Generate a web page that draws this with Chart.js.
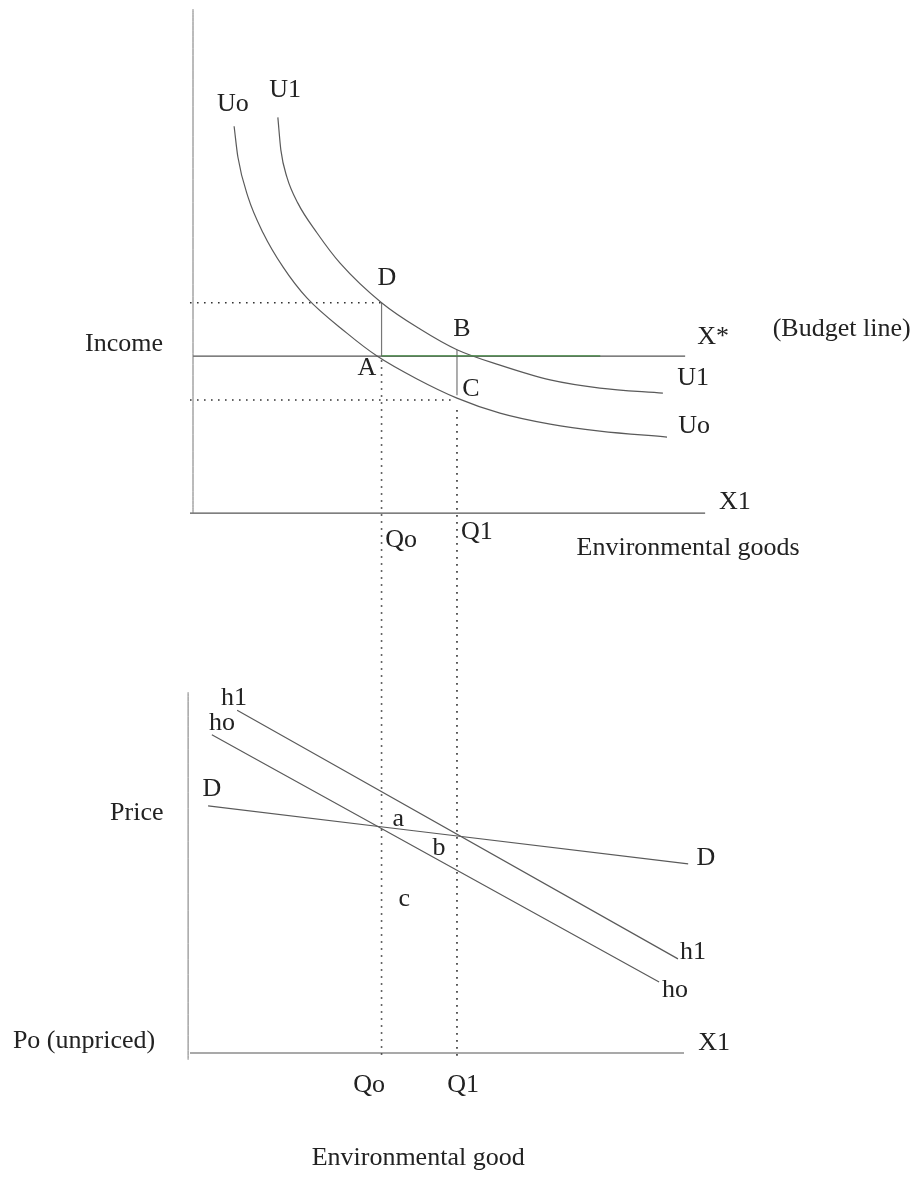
<!DOCTYPE html>
<html>
<head>
<meta charset="utf-8">
<script src="https://cdn.jsdelivr.net/npm/chart.js@4"></script>
<style>
  html, body { margin: 0; padding: 0; background: #fff; }
  #wrap { width: 918px; height: 1179px; }
</style>
</head>
<body>
<div id="wrap"><canvas id="welfare_chart" width="918" height="1179"></canvas></div>
<script>
// quantity of the environmental good at the two points
const qtyMarks = [5, 7];            // Qo, Q1

// top panel: indifference curves (quantity, income)
const uoQty    = [1.09, 1.19, 1.46, 1.86, 2.39, 3.02, 4.08, 4.88, 5.94, 7.0, 8.14, 9.47, 10.79, 12.57];
const uoIncome = [12.32, 11.34, 10.06, 8.92, 7.83, 6.85, 5.73, 5.0, 4.27, 3.66, 3.18, 2.83, 2.61, 2.42];
const u1Qty    = [2.25, 2.33, 2.49, 2.78, 3.29, 3.9, 5.0, 6.02, 7.0, 8.14, 9.47, 10.79, 12.46];
const u1Income = [12.6, 11.56, 10.7, 9.87, 8.92, 7.96, 6.7, 5.86, 5.2, 4.71, 4.24, 3.98, 3.82];

const budgetQty    = [0, 13.05];
const budgetIncome = [5, 5];
const budgetGreen  = [5, 10.8];
const incomeLevels = [6.7, 5.0, 3.6];   // at D, at the budget line, at C
const stepIncome   = [5.2, 3.75];       // B and C on the Q1 line

// bottom panel: Hicksian curves and demand (quantity, price)
const h1Qty     = [1.17, 12.86];
const h1Price   = [15.3, 4.2];
const hoQty     = [0.5, 12.36];
const hoPrice   = [14.2, 3.17];
const demandQty   = [0.4, 13.13];
const demandPrice = [11.03, 8.44];

const lineColor = '#5a5a5a';
const dotColor = '#333';

function pts(xs, ys) {
    return xs.map((x, i) => ({ x: x, y: ys[i] }));
}

function solid(data, axis, color, width) {
    return {
        data: data,
        yAxisID: axis,
        borderColor: color || lineColor,
        borderWidth: width || 1.2,
        pointRadius: 0,
        fill: false,
        cubicInterpolationMode: 'monotone'
    };
}

function dotted(data, axis) {
    return {
        data: data,
        yAxisID: axis,
        borderColor: dotColor,
        borderWidth: 1.6,
        borderDash: [1.6, 5.4],
        pointRadius: 0,
        fill: false
    };
}

const labels = [
    // top panel
    { text: 'Uo', x: 1.06, y: 13.03, axis: 'yInc' },
    { text: 'U1', x: 2.44, y: 13.47, axis: 'yInc' },
    { text: 'D', x: 5.14, y: 7.48, axis: 'yInc' },
    { text: 'B', x: 7.13, y: 5.86, axis: 'yInc' },
    { text: 'A', x: 4.61, y: 4.62, axis: 'yInc' },
    { text: 'C', x: 7.37, y: 3.95, axis: 'yInc' },
    { text: 'X*', x: 13.79, y: 5.6, axis: 'yInc' },
    { text: '(Budget line)', x: 17.2, y: 5.86, axis: 'yInc' },
    { text: 'U1', x: 13.26, y: 4.3, axis: 'yInc' },
    { text: 'Uo', x: 13.29, y: 2.77, axis: 'yInc' },
    { text: 'X1', x: 14.37, y: 0.35, axis: 'yInc' },
    { text: 'Qo', x: 5.52, y: -0.86, axis: 'yInc' },
    { text: 'Q1', x: 7.53, y: -0.6, axis: 'yInc' },
    { text: 'Environmental goods', x: 13.13, y: -1.11, axis: 'yInc' },
    { text: 'Income', x: -1.83, y: 5.38, axis: 'yInc' },
    // bottom panel
    { text: 'h1', x: 1.09, y: 15.85, axis: 'yPrice' },
    { text: 'ho', x: 0.77, y: 14.73, axis: 'yPrice' },
    { text: 'D', x: 0.5, y: 11.79, axis: 'yPrice' },
    { text: 'Price', x: -1.49, y: 10.71, axis: 'yPrice' },
    { text: 'a', x: 5.44, y: 10.45, axis: 'yPrice' },
    { text: 'b', x: 6.52, y: 9.15, axis: 'yPrice' },
    { text: 'c', x: 5.6, y: 6.88, axis: 'yPrice' },
    { text: 'D', x: 13.6, y: 8.71, axis: 'yPrice' },
    { text: 'h1', x: 13.26, y: 4.51, axis: 'yPrice' },
    { text: 'ho', x: 12.78, y: 2.81, axis: 'yPrice' },
    { text: 'X1', x: 13.82, y: 0.45, axis: 'yPrice' },
    { text: 'Po (unpriced)', x: -2.89, y: 0.54, axis: 'yPrice' },
    { text: 'Qo', x: 4.67, y: -1.43, axis: 'yPrice' },
    { text: 'Q1', x: 7.16, y: -1.43, axis: 'yPrice' },
    { text: 'Environmental good', x: 5.97, y: -4.69, axis: 'yPrice' }
];

// Qo / Q1 dotted guides run from the top panel down to the bottom axis
const guidePlugin = {
    id: 'guides',
    afterDatasetsDraw(chart) {
        const ctx = chart.ctx;
        const x = chart.scales.x;
        const yInc = chart.scales.yInc;
        const yPrice = chart.scales.yPrice;
        const starts = [4.87, 3.28];
        ctx.save();
        ctx.strokeStyle = dotColor;
        ctx.lineWidth = 1.6;
        ctx.setLineDash([1.6, 5.4]);
        qtyMarks.forEach((q, i) => {
            ctx.beginPath();
            ctx.moveTo(x.getPixelForValue(q), yInc.getPixelForValue(starts[i]));
            ctx.lineTo(x.getPixelForValue(q), yPrice.getPixelForValue(-0.25));
            ctx.stroke();
        });
        ctx.setLineDash([]);
        ctx.fillStyle = '#222';
        ctx.font = '26px "Liberation Serif", "Times New Roman", serif';
        ctx.textAlign = 'center';
        ctx.textBaseline = 'middle';
        labels.forEach(l => {
            ctx.fillText(l.text, x.getPixelForValue(l.x), chart.scales[l.axis].getPixelForValue(l.y));
        });
        ctx.restore();
    }
};

const ctx = document.getElementById('welfare_chart');

new Chart(ctx, {
    type: 'line',
    data: {
        datasets: [
            // top panel axes
            solid(pts([0, 0], [0, 16.05]), 'yInc', '#777', 1),
            solid(pts([-0.08, 13.58], [0, 0]), 'yInc', '#555', 1.2),
            // budget line
            solid(pts(budgetQty, budgetIncome), 'yInc', '#555', 1.2),
            solid(pts(budgetGreen, budgetIncome), 'yInc', '#45d445', 1.6),
            // indifference curves
            solid(pts(uoQty, uoIncome), 'yInc'),
            solid(pts(u1Qty, u1Income), 'yInc'),
            // D-A and B-C steps
            solid(pts([qtyMarks[0], qtyMarks[0]], [incomeLevels[0], incomeLevels[1]]), 'yInc', '#777', 1.2),
            solid(pts([qtyMarks[1], qtyMarks[1]], stepIncome), 'yInc', '#777', 1.2),
            // dotted income levels
            dotted(pts([-0.08, qtyMarks[0]], [incomeLevels[0], incomeLevels[0]]), 'yInc'),
            dotted(pts([-0.08, qtyMarks[1] - 0.1], [incomeLevels[2], incomeLevels[2]]), 'yInc'),
            // bottom panel axes
            solid(pts([-0.13, -0.13], [-0.3, 16.1]), 'yPrice', '#777', 1),
            solid(pts([-0.08, 13.02], [0, 0]), 'yPrice', '#555', 1.2),
            // compensated curves and demand
            solid(pts(h1Qty, h1Price), 'yPrice'),
            solid(pts(hoQty, hoPrice), 'yPrice'),
            solid(pts(demandQty, demandPrice), 'yPrice')
        ]
    },
    options: {
        responsive: false,
        animation: false,
        devicePixelRatio: 1,
        layout: { padding: 0 },
        plugins: {
            legend: { display: false },
            tooltip: { enabled: false }
        },
        scales: {
            x: { type: 'linear', min: -5.118, max: 19.225, display: false },
            yInc: { type: 'linear', position: 'left', min: -21.21, max: 16.34, display: false },
            yPrice: { type: 'linear', position: 'left', min: -5.625, max: 47.0, display: false }
        }
    },
    plugins: [guidePlugin]
});
</script>
</body>
</html>
